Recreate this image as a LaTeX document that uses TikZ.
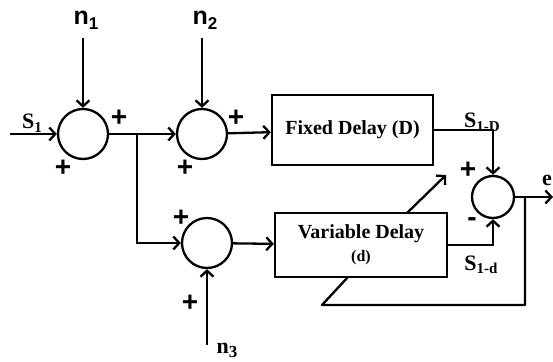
\documentclass[tikz,border=0pt]{standalone}
\usepackage{fontspec}
\setmainfont{Liberation Serif}
\newfontfamily\sansf{Liberation Sans}
\usetikzlibrary{arrows.meta}
\newcommand{\subtxt}[2]{#1\raisebox{-0.35ex}{\fontsize{15}{15}\selectfont #2}}
\begin{document}
\begin{tikzpicture}[x=1pt,y=-1pt,
  ln/.style={line width=2.3pt},
  arr/.style={line width=2.3pt,-{Straight Barb[length=6pt,width=13pt]}},
  sumnode/.style={circle,draw,line width=2.3pt,minimum size=50pt,inner sep=0pt},
  delaybox/.style={draw,line width=2.3pt,inner sep=0pt,align=center},
  sign/.style={font=\sansf\bfseries\fontsize{28}{28}\selectfont,inner sep=0pt},
  lbl/.style={inner sep=0pt,font=\bfseries\fontsize{22}{22}\selectfont},
  nlbl/.style={inner sep=0pt,font=\sansf\bfseries\fontsize{25}{25}\selectfont}]
\useasboundingbox (0,0) rectangle (553,361);
% summing junctions
\node[sumnode] (s1) at (83,134) {};
\node[sumnode] (s2) at (202,134) {};
\node[sumnode] (s3) at (207,243) {};
\node[sumnode,minimum size=42pt] (s4) at (493,197) {};
% delay boxes
\node[delaybox,minimum width=161pt,minimum height=70pt,font=\bfseries\fontsize{20}{22}\selectfont] (fd) at (352.5,130) {Fixed Delay (D)};
\node[delaybox,minimum width=172pt,minimum height=64pt] (vd) at (361,245)
  {{\bfseries\fontsize{20}{22}\selectfont Variable Delay}\\[7pt]{\bfseries\fontsize{16}{17}\selectfont (d)}};
% coordinates
\coordinate (inS) at (10,134);
\coordinate (n1top) at (83,38);
\coordinate (n2top) at (202,38);
\coordinate (n3bot) at (207,345);
\coordinate (br) at (137,134);
\coordinate (out) at (553,197);
\coordinate (fb) at (525,197);
\coordinate (fbc) at (322,305);
\coordinate (fbend) at (348,277);
\coordinate (dgs) at (407,213);
\coordinate (dge) at (446,175);
% connectors
\draw[arr] (inS) -- (s1);
\draw[arr] (n1top) -- (s1);
\draw[arr] (n2top) -- (s2);
\draw[arr] (s1) -- (s2);
\draw[arr] (s2) -- (fd);
\draw[arr] (br) |- (s3);
\draw[arr] (n3bot) -- (s3);
\draw[arr] (s3) -- (vd);
\draw[arr] (fd.east) -| (s4.north);
\draw[arr] (vd.east) -| (s4.south);
\draw[arr] (s4) -- (out);
\draw[ln,line join=round] (fb) |- (fbc) -- (fbend);
\draw[arr] (dgs) -- (dge);
% labels
\node[lbl] at (32,123) {\subtxt{S}{1}};
\node[nlbl] at (86,20) {n\raisebox{-0.4ex}{\fontsize{17}{17}\selectfont 1}};
\node[nlbl] at (205,20) {n\raisebox{-0.4ex}{\fontsize{17}{17}\selectfont 2}};
\node[inner sep=0pt,font=\bfseries\fontsize{22}{22}\selectfont] at (227,350) {n\raisebox{-0.4ex}{\fontsize{17}{17}\selectfont 3}};
\node[lbl] at (482,122) {\subtxt{S}{1-D}};
\node[lbl] at (481,265) {\subtxt{S}{1-d}};
\node[lbl,anchor=west] at (542,180) {e};
% signs
\node[sign] at (119,118) {+};
\node[sign] at (63,168) {+};
\node[sign] at (236,118) {+};
\node[sign] at (185,168) {+};
\node[sign] at (181,218) {+};
\node[sign] at (190,303) {+};
\node[sign] at (468,170) {+};
\node[sign] at (472,222) {-};
\end{tikzpicture}
\end{document}
